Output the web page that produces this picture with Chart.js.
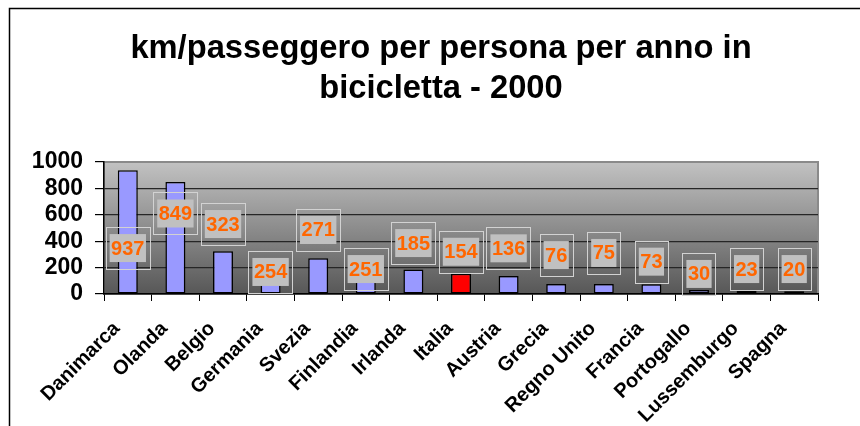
<!DOCTYPE html>
<html>
<head>
<meta charset="utf-8">
<title>km/passeggero in bicicletta - 2000</title>
<script src="https://cdn.jsdelivr.net/npm/chart.js@4.4.0/dist/chart.umd.min.js"></script>
<style>
  html, body { margin: 0; padding: 0; background: #fff; }
</style>
</head>
<body>
<canvas id="chartBici" width="860" height="426"></canvas>
<script>
const paesi = ['Danimarca', 'Olanda', 'Belgio', 'Germania', 'Svezia', 'Finlandia', 'Irlanda', 'Italia',
    'Austria', 'Grecia', 'Regno Unito', 'Francia', 'Portogallo', 'Lussemburgo', 'Spagna']
const kmPersona = [937, 849, 323, 254, 271, 251, 185, 154, 136, 76, 75, 73, 30, 23, 20]
const yTicks = [0, 200, 400, 600, 800, 1000]
// the value boxes were dragged by hand in the original, this is where they sit (axis units)
const posEtichette = [348, 610, 530, 167, 485, 189, 386, 320, 346, 295, 311, 245, 152, 189, 189]
const evidenziato = 'Italia'
const titolo = ['km/passeggero per persona per anno in', 'bicicletta - 2000']

const FONT = "'Liberation Sans', Arial, Helvetica, sans-serif"

const canvas = document.getElementById('chartBici')
const context = canvas.getContext('2d')

// white page, the old frame lines and the grey gradient wall behind the bars
const sfondo = {
    id: 'sfondo',
    beforeDraw: (chart) => {
        const { ctx, chartArea: a } = chart
        ctx.save()
        ctx.fillStyle = '#fff'
        ctx.fillRect(0, 0, chart.width, chart.height)

        ctx.strokeStyle = '#000'
        ctx.lineWidth = 1.5
        ctx.beginPath()
        ctx.moveTo(9.5, chart.height)
        ctx.lineTo(9.5, 8.5)
        ctx.lineTo(chart.width, 8.5)
        ctx.stroke()

        const grad = ctx.createLinearGradient(0, a.top, 0, a.bottom)
        grad.addColorStop(0, '#c2c2c2')
        grad.addColorStop(1, '#575757')
        ctx.fillStyle = grad
        ctx.fillRect(a.left, a.top, a.right - a.left, a.bottom - a.top)

        ctx.strokeStyle = '#8a8a8a'
        ctx.lineWidth = 2
        ctx.strokeRect(a.left, a.top, a.right - a.left, a.bottom - a.top)
        ctx.restore()
    }
}

// title drawn by hand (the built-in one would need left padding that clips the y labels)
const titoloPlugin = {
    id: 'titolo',
    afterDraw: (chart) => {
        const { ctx } = chart
        ctx.save()
        ctx.font = `bold 32.7px ${FONT}`
        ctx.fillStyle = '#000'
        ctx.textAlign = 'center'
        ctx.textBaseline = 'alphabetic'
        titolo.forEach((riga, i) => {
            ctx.fillText(riga, 441, 58 + i * 40)
        })
        ctx.restore()
    }
}

// orange numbers in grey boxes
const etichette = {
    id: 'etichette',
    afterDatasetsDraw: (chart) => {
        const { ctx } = chart
        const yScale = chart.scales.y
        const meta = chart.getDatasetMeta(0)
        ctx.save()
        ctx.font = `bold 20px ${FONT}`
        ctx.textAlign = 'center'
        ctx.textBaseline = 'middle'
        meta.data.forEach((bar, i) => {
            const testo = String(kmPersona[i])
            const x = bar.x
            const y = yScale.getPixelForValue(posEtichette[i])
            const w = ctx.measureText(testo).width + 3
            const h = 28

            ctx.strokeStyle = '#d2d2d2'
            ctx.lineWidth = 1
            ctx.strokeRect(Math.round(x - w / 2 - 4) + 0.5, Math.round(y - 21) + 0.5, Math.round(w + 8), 42)

            ctx.fillStyle = '#c0c0c0'
            ctx.fillRect(x - w / 2, y - h / 2, w, h)

            ctx.fillStyle = '#ff6600'
            ctx.fillText(testo, x, y + 1)
        })
        ctx.restore()
    }
}

const chartBici = new Chart(context, {
    type: 'bar',
    data: {
        labels: paesi,
        datasets: [
            {
                label: 'km/passeggero',
                data: kmPersona,
                backgroundColor: paesi.map(p => p === evidenziato ? '#ff0000' : '#9999ff'),
                borderColor: '#000',
                borderWidth: 1.5,
                borderSkipped: false,
                barPercentage: 0.42,
                categoryPercentage: 1
            }
        ]
    },
    options: {
        responsive: false,
        animation: false,
        layout: {
            padding: { left: 0, right: 42, top: 162, bottom: 0 }
        },
        plugins: {
            legend: { display: false },
            tooltip: { enabled: false },
            title: { display: false }
        },
        scales: {
            x: {
                afterFit: (s) => { s.height = 132 },
                grid: {
                    display: true,
                    offset: true,
                    drawOnChartArea: false,
                    tickLength: 7,
                    tickColor: '#000',
                    tickWidth: 1
                },
                border: { display: true, color: '#000', width: 1.5 },
                ticks: {
                    color: '#000',
                    minRotation: 45,
                    maxRotation: 45,
                    autoSkip: false,
                    padding: 16,
                    labelOffset: -11,
                    font: { family: FONT, size: 20, weight: 'bold' }
                }
            },
            y: {
                min: yTicks[0],
                max: yTicks[yTicks.length - 1],
                afterFit: (s) => { s.width = 104 },
                grid: {
                    color: (c) => c.tick.value === yTicks[yTicks.length - 1] ? '#8a8a8a' : (c.tick.value === 0 ? 'rgba(0,0,0,0)' : '#262626'),
                    lineWidth: 1.2,
                    tickLength: 9,
                    tickColor: '#000'
                },
                border: { display: true, color: '#000', width: 1.5 },
                ticks: {
                    stepSize: yTicks[1] - yTicks[0],
                    autoSkip: false,
                    color: '#000',
                    padding: 12,
                    callback: (v) => String(v),
                    font: { family: FONT, size: 23, weight: 'bold' }
                }
            }
        }
    },
    plugins: [sfondo, etichette, titoloPlugin]
})
</script>
</body>
</html>
